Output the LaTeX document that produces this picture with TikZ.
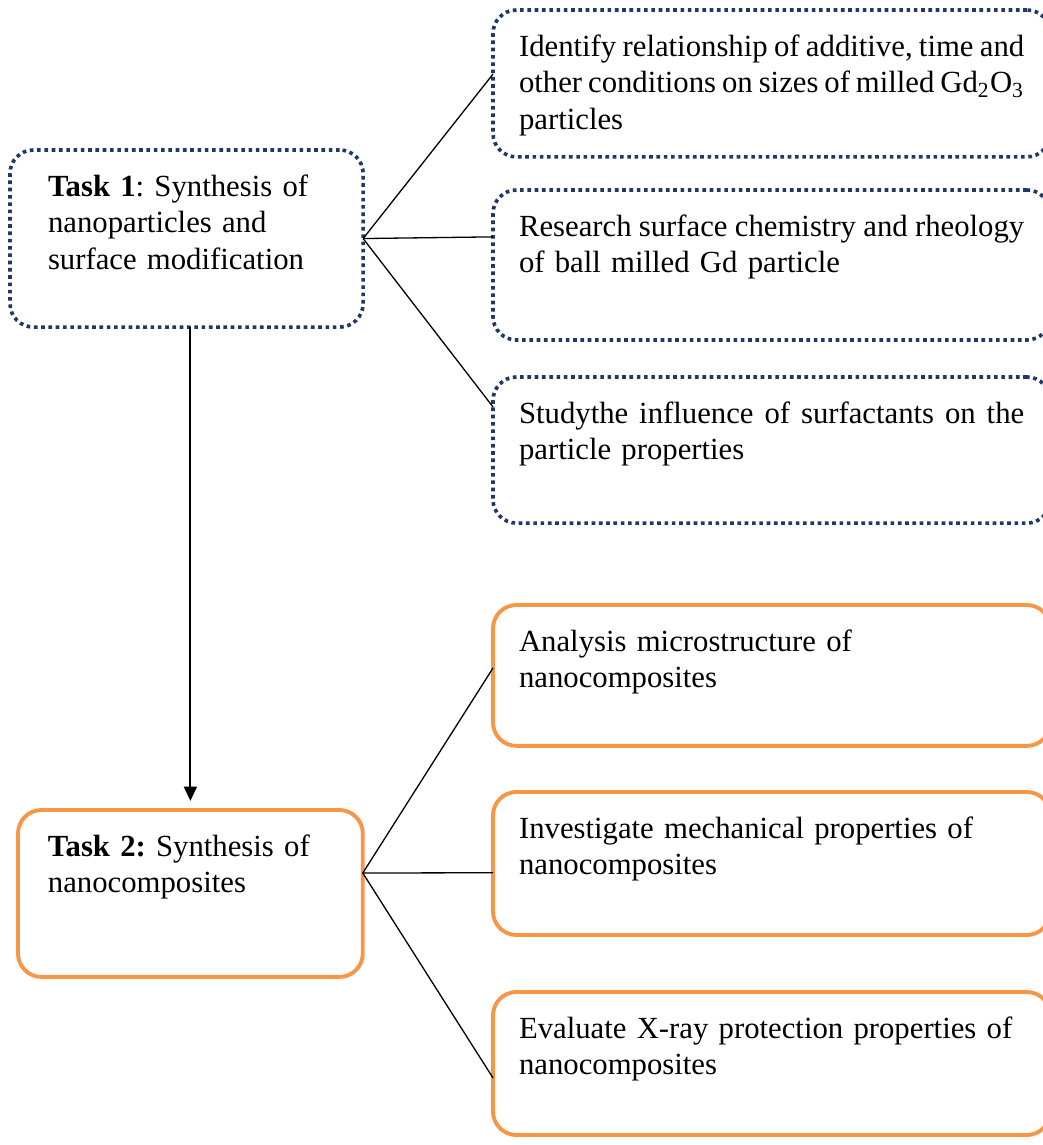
\documentclass[tikz,border=0pt]{standalone}
\usepackage{fontspec}
\setmainfont{Liberation Serif}
\usepackage{tikz}
\usetikzlibrary{arrows.meta}

\definecolor{dotblue}{HTML}{1F3864}
\definecolor{boxorange}{HTML}{F79646}
\newcommand{\fullline}[1]{\makebox[194pt][s]{\spaceskip=0.25em plus 1em minus 0.13em\relax #1}}

\begin{document}
\frenchspacing
\begin{tikzpicture}[x=0.384pt, y=-0.384pt, font=\fontsize{11.8pt}{14pt}\selectfont,
  every node/.style={anchor=north west, rounded corners=9pt, inner ysep=0pt, outer sep=0pt, text height=17.7pt},
  dotbox/.style={draw=dotblue, line width=1.4pt, dash pattern=on 1.4pt off 1.4pt},
  orbox/.style={draw=boxorange, line width=1.5pt},
  aim/.style={text width=194pt, inner xsep=10pt, align=left, text depth=#1},
  link/.style={line width=0.5pt}]
  \useasboundingbox (0,0) rectangle (1042,1145);
  % main tasks
  \node[dotbox, text width=106.4pt, inner xsep=14.6pt, align=left, text depth=50.3pt] (tsk1) at (10,150)
    {\textbf{Task 1}: Synthesis of\\ nanoparticles and\\ surface modification};
  \node[orbox, text width=109.4pt, inner xsep=11.5pt, align=left, text depth=46.4pt] (tsk2) at (18,810)
    {\textbf{Task 2:} Synthesis of\\ nanocomposites};
  % aims of task 1
  \node[dotbox, aim=38.7pt] (size) at (493,10)
    {\fullline{Identify relationship of additive, time and}\\ \fullline{other conditions on sizes of milled Gd\textsubscript{2}O\textsubscript{3}}\\ particles};
  \node[dotbox, aim=39.9pt] (surf) at (493,190)
    {\fullline{Research surface chemistry and rheology}\\ of ball milled Gd particle};
  \node[dotbox, aim=38.4pt] (surfact) at (493,377)
    {\fullline{Studythe influence of surfactants on the}\\ particle properties};
  % aims of task 2
  \node[orbox, aim=36.4pt] (micro) at (493,605)
    {Analysis microstructure of\\ nanocomposites};
  \node[orbox, aim=37.2pt] (mech) at (493,792)
    {Investigate mechanical properties of\\ nanocomposites};
  \node[orbox, aim=37.2pt] (xray) at (493,992)
    {Evaluate X-ray protection properties of\\ nanocomposites};

  \draw[link] (tsk1.east) -- ([yshift=-24.6pt]size.north west);
  \draw[link] (tsk1.east) -- ([yshift=-18pt]surf.north west);
  \draw[link] (tsk1.east) -- ([yshift=-11.5pt]surfact.north west);
  \draw[link] ([yshift=-24.2pt]tsk2.north east) -- ([yshift=-24.2pt]micro.north west);
  \draw[link] ([yshift=-24.2pt]tsk2.north east) -- ([yshift=-31pt]mech.north west);
  \draw[link] ([yshift=-24.2pt]tsk2.north east) -- ([yshift=-33pt]xray.north west);
  \draw[line width=0.8pt, -{Triangle[length=5.5pt,width=5pt]}, shorten >=3.5pt] (tsk2.north |- tsk1.south) -- (tsk2.north);
\end{tikzpicture}
\end{document}
